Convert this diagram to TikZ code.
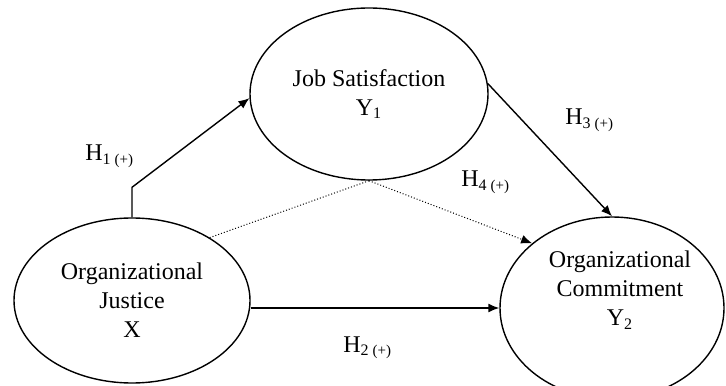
\documentclass[tikz,border=0pt]{standalone}
\usepackage{fontspec}
\setmainfont{Liberation Serif}
\usetikzlibrary{shapes.geometric, arrows.meta}
\newcommand{\hyp}[1]{H\textsubscript{#1 {\fontsize{7.5}{8}\selectfont(+)}}}

\begin{document}
\begin{tikzpicture}[x=0.5pt, y=0.5pt,
	construct/.style={ellipse, draw, line width=0.7pt, inner sep=0pt, align=center, font=\fontsize{12}{14.5}\selectfont},
	hyparrow/.style={line width=0.7pt, -{Latex[length=5.5pt, width=4.5pt]}},
	weak/.style={line width=0.5pt, densely dotted},
	lbl/.style={anchor=base west, inner sep=0pt, font=\fontsize{12}{14.5}\selectfont}]
	\useasboundingbox (0,0) rectangle (726,385);

	% constructs
	\node[construct, minimum width=119pt, minimum height=86pt] (sat) at (369,291) {Job Satisfaction\\Y\textsubscript{1}};
	\node[construct, minimum width=118pt, minimum height=82.5pt] (just) at (132,84.5) {Organizational\\Justice\\X};
	\node[construct, minimum width=112pt, minimum height=91pt] (com) at (612,77) {};
	\node[align=center, inner sep=0pt, font=\fontsize{12}{14.5}\selectfont] (comtext) at (620,95) {Organizational\\Commitment\\Y\textsubscript{2}};

	% paths
	\draw[hyparrow] (just.north) -- ++(0,30) -- (sat.182);
	\draw[hyparrow] (just.east |- com.west) -- (com.west);
	\draw[hyparrow] (sat.5) -- (com.north);
	\draw[weak, -{Latex[length=5.5pt, width=4.5pt]}] (sat.south) -- (com.141);
	\draw[weak] (just.39) -- (sat.south);

	% hypotheses
	\node[lbl] (h1) at (85,224) {\hyp{1}};
	\node[lbl] (h2) at (343,33) {\hyp{2}};
	\node[lbl] (h3) at (565,260) {\hyp{3}};
	\node[lbl] (h4) at (461,198) {\hyp{4}};
\end{tikzpicture}
\end{document}
